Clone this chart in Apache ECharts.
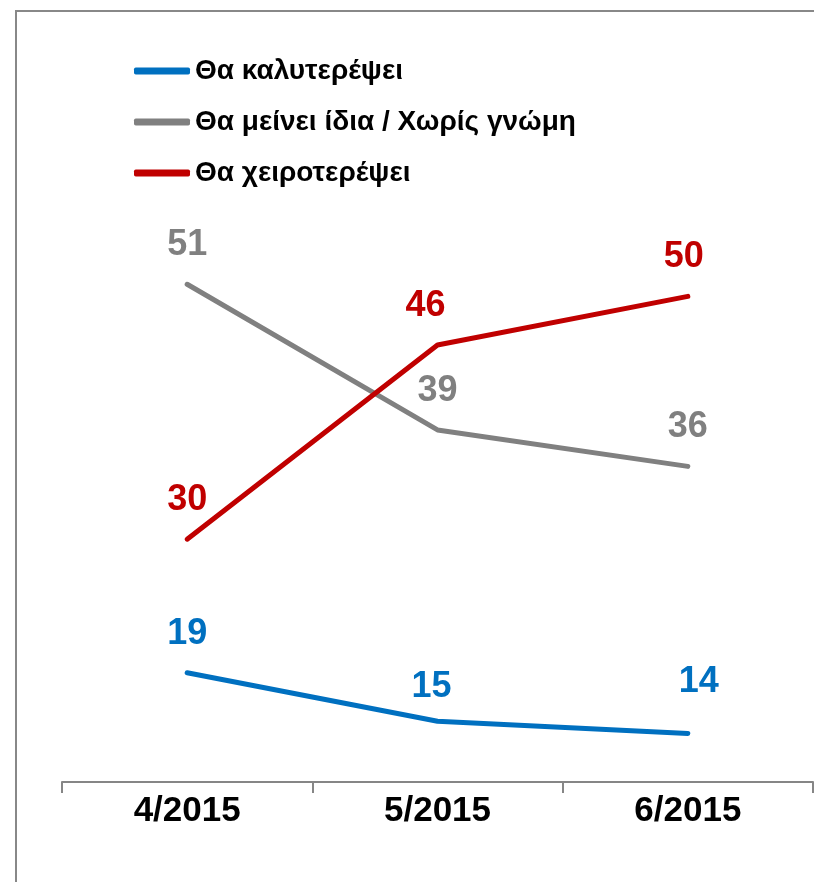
<!DOCTYPE html>
<html>
<head>
<meta charset="utf-8">
<script src="https://cdn.jsdelivr.net/npm/echarts@6/dist/echarts.min.js"></script>
<style>
  html, body { margin: 0; padding: 0; background: #fff; }
  #chart { width: 814px; height: 882px; }
</style>
</head>
<body>
<div id="chart"></div>
<script>
var months = ['4/2015', '5/2015', '6/2015'];
var better = [19, 15, 14];
var same = [51, 39, 36];
var worse = [30, 46, 50];
var seriesNames = ['Θα καλυτερέψει', 'Θα μείνει ίδια / Χωρίς γνώμη', 'Θα χειροτερέψει'];

// small label shifts, as placed in the original chart
var betterNudge = [[0, 0], [-6, 5], [11, -12]];
var sameNudge = [[0, 0], [0, 0], [0, 0]];
var worseNudge = [[0, 0], [-12, 0], [-4, 0]];

var fontFam = '"Liberation Sans", Arial, sans-serif';

function lineSeries(name, data, color, nudge) {
  return {
    name: name,
    type: 'line',
    data: data.map(function (v, i) {
      return { value: v, label: { offset: nudge[i] } };
    }),
    symbol: 'circle',
    symbolSize: 0.1,
    lineStyle: { color: color, width: 5, cap: 'round', join: 'round' },
    itemStyle: { color: color },
    label: {
      show: true,
      position: 'top',
      distance: 21,
      color: color,
      fontSize: 36,
      fontWeight: 'bold',
      fontFamily: fontFam
    }
  };
}

var myChart = echarts.init(document.getElementById('chart'));

var option = {
  animation: false,
  backgroundColor: '#fff',
  graphic: [
    {
      type: 'rect',
      shape: { x: 16, y: 11, width: 900, height: 1000 },
      style: { fill: 'none', stroke: '#888888', lineWidth: 2 }
    }
  ],
  legend: {
    orient: 'vertical',
    left: 129,
    top: 52,
    itemWidth: 56,
    itemHeight: 7,
    itemGap: 23,
    icon: 'roundRect',
    textStyle: { fontSize: 28, fontWeight: 'bold', color: '#000', fontFamily: fontFam },
    data: seriesNames
  },
  grid: { left: 62, right: 1, top: 175, bottom: 100 },
  xAxis: {
    type: 'category',
    data: months,
    axisLine: { lineStyle: { color: '#868686', width: 2 } },
    axisTick: { show: true, length: 11, lineStyle: { color: '#868686', width: 2 } },
    axisLabel: { fontSize: 35, fontWeight: 'bold', color: '#000', fontFamily: fontFam, margin: 12 }
  },
  yAxis: {
    type: 'value',
    min: 10,
    max: 60,
    show: false,
    splitLine: { show: false }
  },
  series: [
    lineSeries(seriesNames[0], better, '#0070C0', betterNudge),
    lineSeries(seriesNames[1], same, '#808080', sameNudge),
    lineSeries(seriesNames[2], worse, '#C00000', worseNudge)
  ]
};

myChart.setOption(option);
</script>
</body>
</html>
